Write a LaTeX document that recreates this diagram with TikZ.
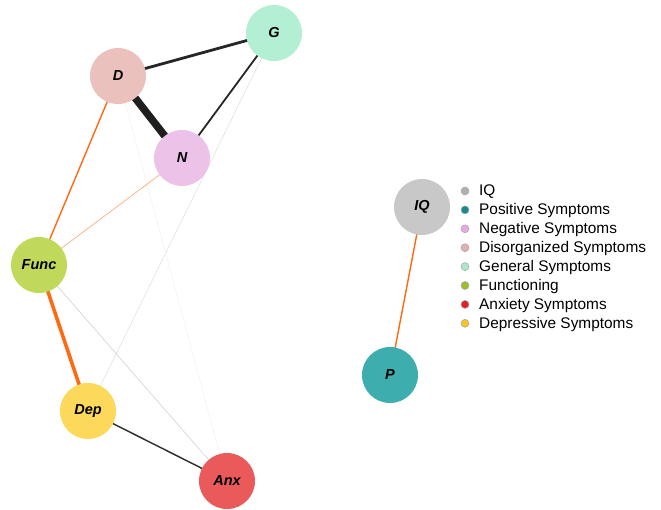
\documentclass[tikz,border=0pt]{standalone}
\usepackage{fontspec}
\setmainfont{Liberation Sans}
\pgfdeclarelayer{bg}\pgfsetlayers{bg,main}
\begin{document}
\begin{tikzpicture}[x=1pt,y=-1pt,
  vnode/.style={circle,minimum size=56pt,inner sep=0pt,font=\fontsize{14.5}{16}\selectfont\bfseries\itshape},
  ldot/.style={circle,minimum size=8pt,inner sep=0pt,draw=gray!70,line width=0.5pt},
  ltext/.style={anchor=west,inner sep=0pt,font=\fontsize{15.4}{17}\selectfont},
  e/.style={line cap=round}]
\useasboundingbox (0,0) rectangle (661,509);
\definecolor{cIQ}{HTML}{C8C8C8}
\definecolor{cP}{HTML}{3DADAD}
\definecolor{cN}{HTML}{EDC2E8}
\definecolor{cD}{HTML}{EBC1BE}
\definecolor{cG}{HTML}{B3EFD2}
\definecolor{cF}{HTML}{C1D95B}
\definecolor{cA}{HTML}{EA5A5A}
\definecolor{cDep}{HTML}{FDD95B}
\definecolor{eor}{HTML}{FF6A10}
% nodes
\node[vnode,fill=cG] (G) at (274,33) {G};
\node[vnode,fill=cD] (D) at (118,76) {D};
\node[vnode,fill=cN] (N) at (182,158) {N};
\node[vnode,fill=cF] (F) at (39,265) {Func};
\node[vnode,fill=cDep] (Dep) at (88,411) {Dep};
\node[vnode,fill=cA] (A) at (227,481) {Anx};
\node[vnode,fill=cIQ] (IQ) at (422,207) {IQ};
\node[vnode,fill=cP] (P) at (390,375) {P};
% edges (behind nodes)
\begin{pgfonlayer}{bg}
\draw[e,line width=0.6pt,color=black!12] (G.center) -- (Dep.center);
\draw[e,line width=0.5pt,color=eor!12] (D.center) -- (A.center);
\draw[e,line width=0.6pt,color=black!18] (F.center) -- (A.center);
\draw[e,line width=0.7pt,color=eor!55] (N.center) -- (F.center);
\draw[e,line width=1.4pt,color=eor] (D.center) -- (F.center);
\draw[e,line width=3.6pt,color=eor] (F.center) -- (Dep.center);
\draw[e,line width=1.5pt,color=black!80] (Dep.center) -- (A.center);
\draw[e,line width=2.8pt,color=black!85] (D.center) -- (G.center);
\draw[e,line width=1.8pt,color=black!85] (G.center) -- (N.center);
\draw[e,line width=7.5pt,color=black!88] (D.center) -- (N.center);
\draw[e,line width=1.4pt,color=eor] (IQ.center) -- (P.center);
\end{pgfonlayer}
% legend
\foreach \i/\c/\t in {0/B0B0B0/IQ,1/1A8A8A/Positive Symptoms,2/E8A8E2/Negative Symptoms,3/E6AFAF/Disorganized Symptoms,4/A8E8C8/General Symptoms,5/9EBE2E/Functioning,6/E02222/Anxiety Symptoms,7/F6C425/Depressive Symptoms}{
  \definecolor{lc}{HTML}{\c}
  \node[ldot,fill=lc] (d\i) at (465,191+18.9*\i) {};
  \node[ltext] (t\i) at (479,192+18.9*\i) {\t};
}
\end{tikzpicture}
\end{document}
